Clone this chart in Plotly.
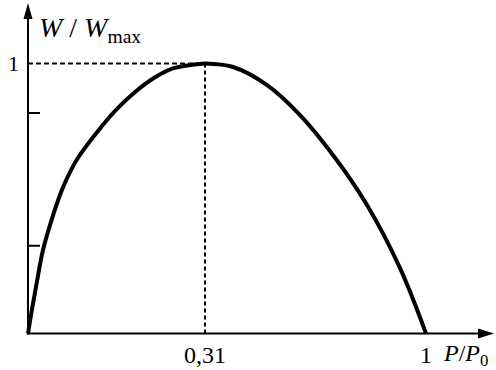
import plotly.graph_objects as go

# Rising branch W/Wmax(P/P0) up to the optimum, and falling branch after it
rise_x = [0.0, 0.0062, 0.0155, 0.0264, 0.045, 0.062, 0.0868, 0.1302, 0.155, 0.186, 0.2232, 0.2542, 0.31]
rise_y = [0.0, 0.080, 0.190, 0.310, 0.445, 0.545, 0.648, 0.770, 0.830, 0.892, 0.950, 0.982, 1.0]
fall_x = [0.31, 0.3976, 0.5039, 0.6067, 0.7095, 0.8158, 0.9186, 1.0]
fall_y = [1.0, 0.987, 0.920, 0.809, 0.661, 0.476, 0.243, 0.0]

x_opt = 0.31               # optimum P/P0
y_ticks = [0.325, 0.817]   # unlabelled ticks on the W axis

W, H = 496, 370
# pixel frame of the drawing
X0, XOPT, X1 = 28, 205, 426
Y0, Y1 = 333.5, 63.5
PAD = 8

s1 = (XOPT - X0) / x_opt
s2 = (X1 - XOPT) / (1 - x_opt)
sy = (Y0 - Y1) / 1.0

FONT = "Liberation Serif"
BLACK = "#000000"


def px(x):
    return x / W


def py(y):
    return (H - y) / H


fig = go.Figure()

curve = dict(color=BLACK, width=4, shape="spline", smoothing=1.0)
fig.add_trace(go.Scatter(x=rise_x, y=rise_y, xaxis="x", yaxis="y", mode="lines",
                         line=curve, showlegend=False, hoverinfo="skip"))
fig.add_trace(go.Scatter(x=fall_x, y=fall_y, xaxis="x2", yaxis="y", mode="lines",
                         line=curve, showlegend=False, hoverinfo="skip"))

# dashed guides to the optimum
fig.add_trace(go.Scatter(x=[0, x_opt], y=[1, 1], xaxis="x", yaxis="y", mode="lines",
                         line=dict(color=BLACK, width=2, dash="5px,3px"),
                         showlegend=False, hoverinfo="skip"))
fig.add_trace(go.Scatter(x=[x_opt, x_opt], y=[0, 1], xaxis="x", yaxis="y", mode="lines",
                         line=dict(color=BLACK, width=2, dash="4px,3px"),
                         showlegend=False, hoverinfo="skip"))

hidden = dict(showline=False, showgrid=False, zeroline=False, showticklabels=False,
              ticks="", fixedrange=True)

fig.update_layout(
    width=W, height=H,
    margin=dict(l=0, r=0, t=0, b=0),
    paper_bgcolor="white", plot_bgcolor="rgba(0,0,0,0)",
    xaxis=dict(domain=[(X0 - PAD) / W, (XOPT + PAD) / W],
               range=[-PAD / s1, x_opt + PAD / s1], anchor="y", **hidden),
    xaxis2=dict(domain=[(XOPT - PAD) / W, (X1 + PAD) / W],
                range=[x_opt - PAD / s2, 1 + PAD / s2], anchor="y", **hidden),
    yaxis=dict(domain=[(H - Y0 - PAD) / H, (H - Y1 + PAD) / H],
               range=[-PAD / sy, 1 + PAD / sy], **hidden),
    font=dict(family=FONT, color=BLACK),
)

# axis lines with arrowheads
axis_line = dict(color=BLACK, width=2)
fig.add_shape(type="line", xref="paper", yref="paper", x0=px(X0 - 1), x1=px(482),
              y0=py(Y0), y1=py(Y0), line=axis_line)
fig.add_shape(type="path", xref="paper", yref="paper",
              path=f"M {px(494)},{py(Y0)} L {px(478)},{py(Y0 - 5)} "
                   f"L {px(478)},{py(Y0 + 5)} Z",
              fillcolor=BLACK, line=dict(color=BLACK, width=0))
fig.add_shape(type="line", xref="paper", yref="paper", x0=px(X0), x1=px(X0),
              y0=py(Y0 + 1), y1=py(16), line=axis_line)
fig.add_shape(type="path", xref="paper", yref="paper",
              path=f"M {px(X0)},{py(3)} L {px(X0 - 4.5)},{py(19)} "
                   f"L {px(X0 + 4.5)},{py(19)} Z",
              fillcolor=BLACK, line=dict(color=BLACK, width=0))

# short ticks on the W axis
for yt in y_ticks:
    fig.add_shape(type="line", xref="paper", yref="y", x0=px(X0), x1=px(X0 + 12),
                  y0=yt, y1=yt, line=axis_line)


def label(text, size, **kw):
    fig.add_annotation(text=text, showarrow=False,
                       font=dict(family=FONT, size=size, color=BLACK), **kw)


label("1", 22, xref="paper", yref="y", x=px(13), y=1, xanchor="center", yanchor="middle")
label("0,31", 24, xref="x2", yref="paper", x=x_opt, y=py(355),
      xanchor="center", yanchor="middle")
label("1", 24, xref="x2", yref="paper", x=1, y=py(355),
      xanchor="center", yanchor="middle")
label("<i>P</i>/<i>P</i><sub>0</sub>", 24, xref="paper", yref="paper", x=px(441),
      y=py(355), xanchor="left", yanchor="middle")
label("<i>W</i> / <i>W</i><sub>max</sub>", 28, xref="paper", yref="paper", x=px(37),
      y=py(30), xanchor="left", yanchor="middle")

fig.write_html("out.html")
